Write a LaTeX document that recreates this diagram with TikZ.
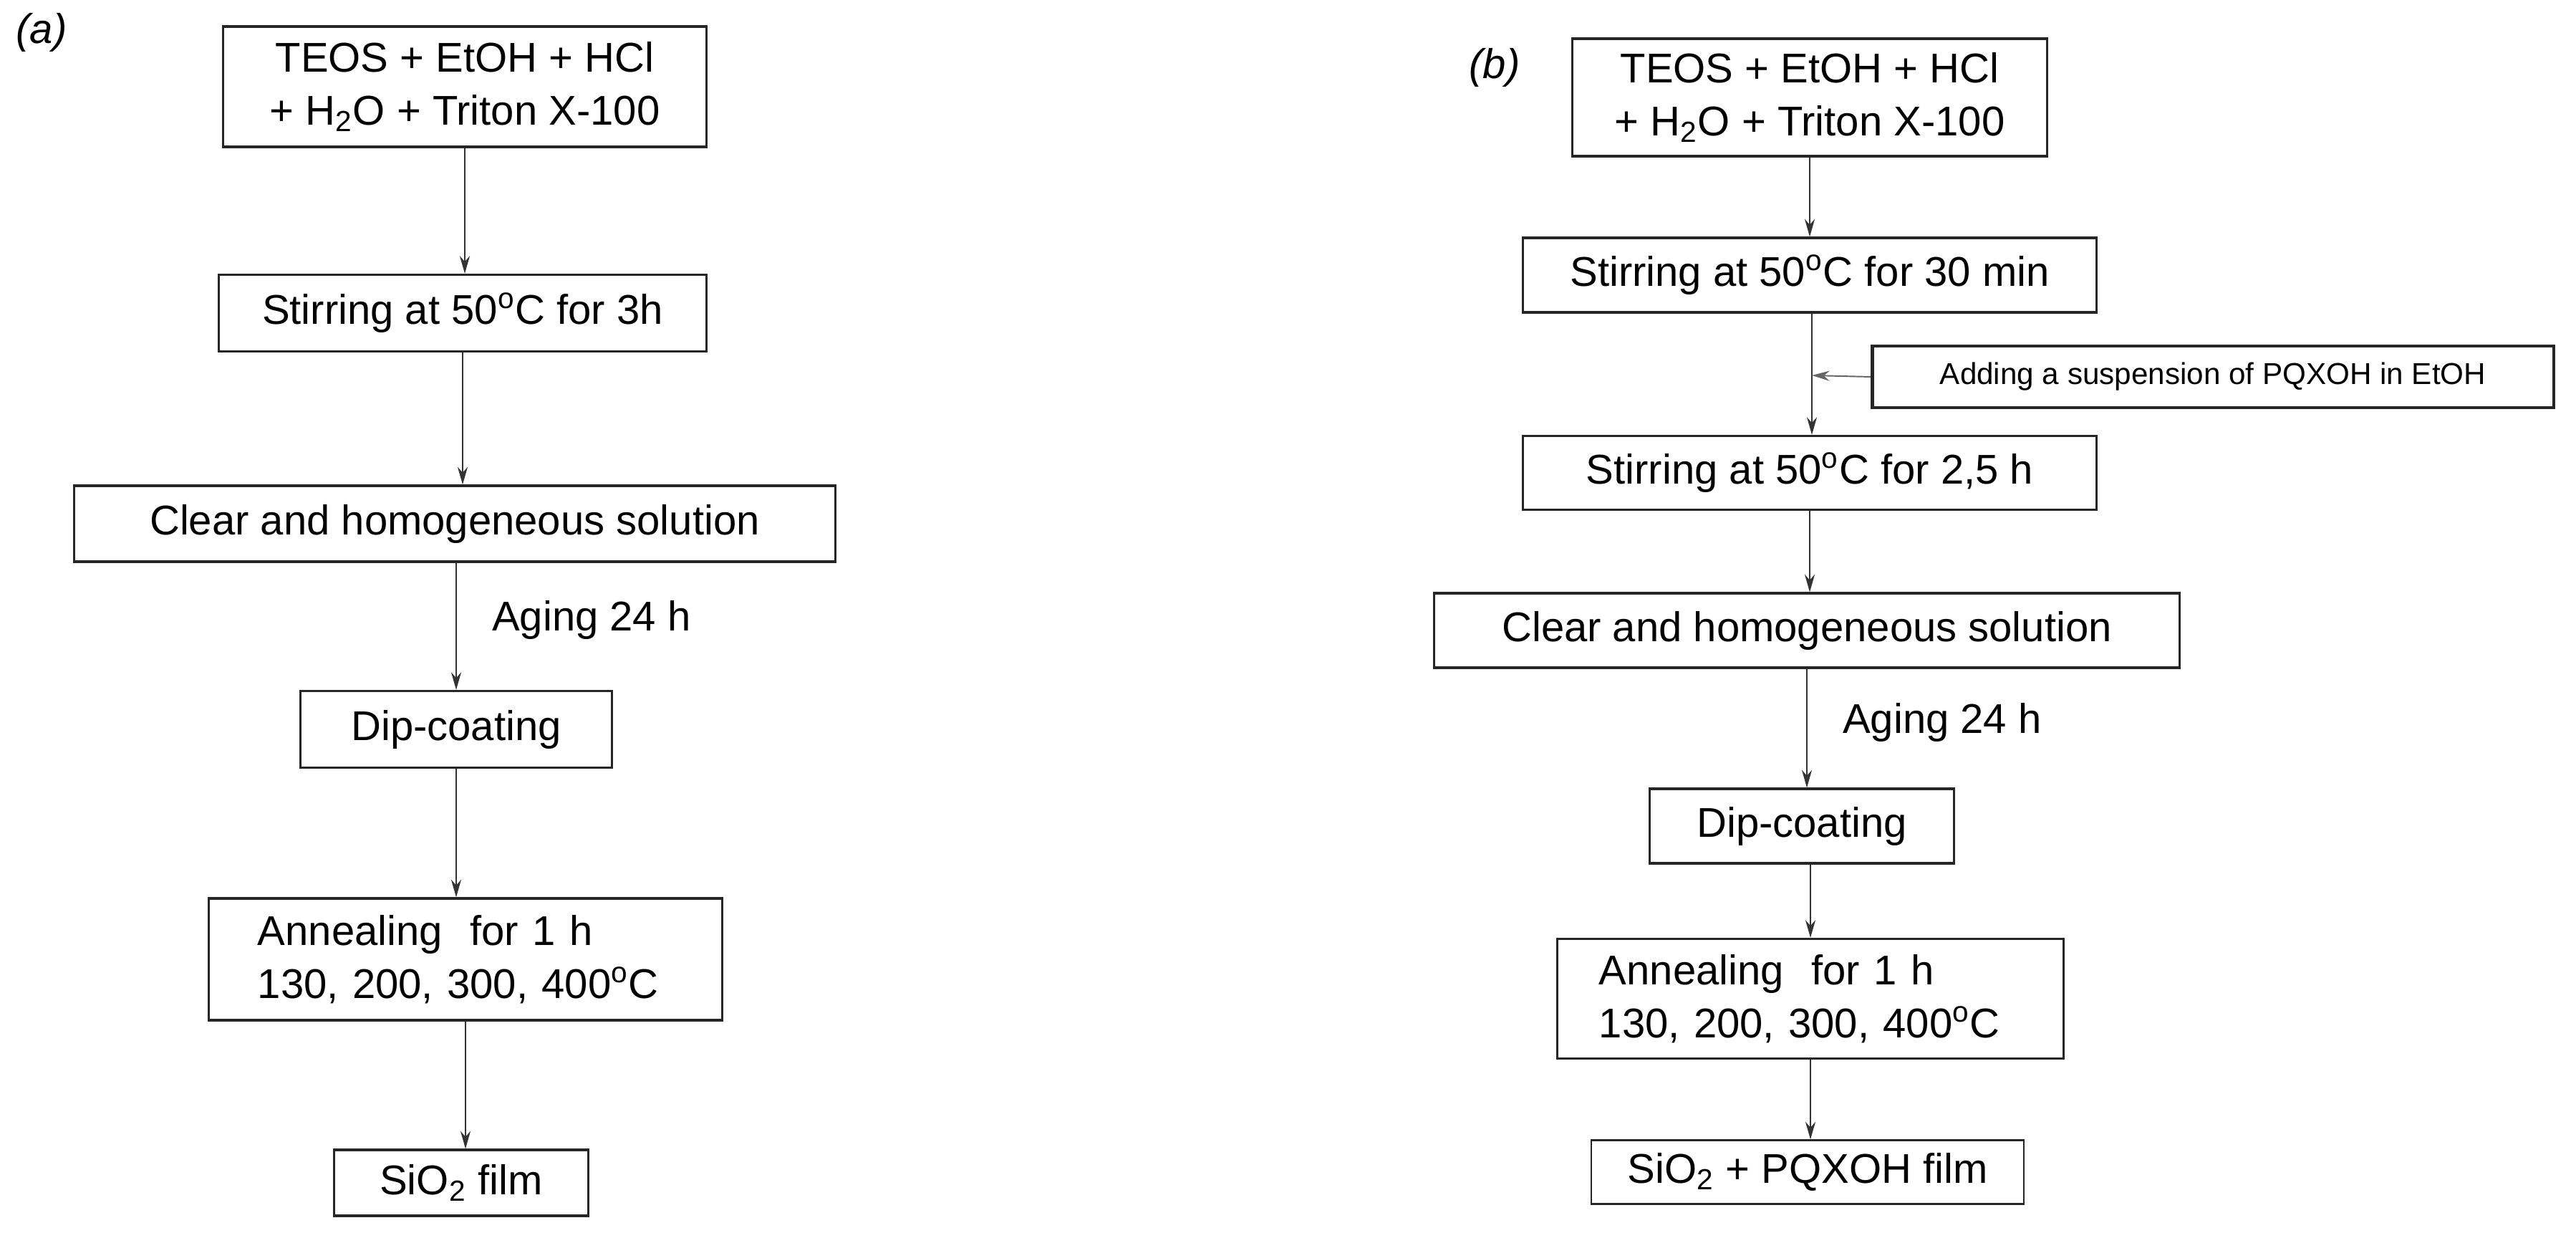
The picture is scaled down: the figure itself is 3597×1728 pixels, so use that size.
\documentclass[tikz,border=0pt]{standalone}
\usepackage{fontspec}
\setmainfont{Liberation Sans}
\usetikzlibrary{arrows.meta}
\begin{document}
\begin{tikzpicture}[x=0.01cm,y=-0.01cm,
  box/.style={draw=black!85,line width=0.9pt,inner sep=0pt,font=\fontsize{16.5}{21}\selectfont,align=center},
  arr/.style={draw=black!80,line width=0.55pt,-{Stealth[length=7pt,width=4pt]}},
  lab/.style={font=\fontsize{16.5}{21}\selectfont,anchor=west,inner sep=0pt}]
\useasboundingbox (0,0) rectangle (3597,1728);
% (a)
\node[font=\itshape\fontsize{16.5}{20}\selectfont,inner sep=0pt] (la) at (58,45) {(a)};
\node[box,minimum width=6.75cm,minimum height=1.68cm] (a1) at (649,121) {TEOS + EtOH + HCl\\+ H\textsubscript{2}O + Triton X-100};
\node[box,minimum width=6.81cm,minimum height=1.07cm] (a2) at (646,437) {Stirring at 50\textsuperscript{o}C for 3h};
\node[box,minimum width=10.62cm,minimum height=1.06cm] (a3) at (635,731) {Clear and homogeneous solution};
\node[box,minimum width=4.34cm,minimum height=1.07cm] (a4) at (637,1018) {Dip-coating};
\node[box,minimum width=7.17cm,minimum height=1.70cm,align=left,text width=5.8cm] (a5) at (650,1339) {Annealing~ for 1 h\\130, 200, 300, 400\textsuperscript{o}C};
\node[box,minimum width=3.54cm,minimum height=0.92cm] (a6) at (644,1651) {SiO\textsubscript{2} film};
\draw[arr] (a1.south) -- (a1.south |- a2.north);
\draw[arr] (a2.south) -- (a2.south |- a3.north);
\draw[arr] (a4.north |- a3.south) -- (a4.north) node[lab,pos=0.45,right=14pt] (aga) {Aging 24 h};
\draw[arr] (a4.south) -- (a4.south |- a5.north);
\draw[arr] (a5.south) -- (a5.south |- a6.north);
% (b)
\node[font=\itshape\fontsize{16.5}{20}\selectfont,inner sep=0pt] (lb) at (2087,94) {(b)};
\node[box,minimum width=6.62cm,minimum height=1.64cm] (b1) at (2527,136) {TEOS + EtOH + HCl\\+ H\textsubscript{2}O + Triton X-100};
\node[box,minimum width=8.01cm,minimum height=1.04cm] (b2) at (2527,384) {Stirring at 50\textsuperscript{o}C for 30 min};
\node[box,line width=1.3pt,minimum width=9.51cm,minimum height=0.86cm,font=\fontsize{12}{14}\selectfont] (bs) at (3090,526) {Adding a suspension of PQXOH in EtOH};
\node[box,minimum width=8.01cm,minimum height=1.03cm] (b3) at (2527,660) {Stirring at 50\textsuperscript{o}C for 2,5 h};
\node[box,minimum width=10.40cm,minimum height=1.04cm] (b4) at (2523,880) {Clear and homogeneous solution};
\node[box,minimum width=4.25cm,minimum height=1.04cm] (b5) at (2516,1153) {Dip-coating};
\node[box,minimum width=7.06cm,minimum height=1.67cm,align=left,text width=5.9cm] (b6) at (2528,1394) {Annealing~ for 1 h\\130, 200, 300, 400\textsuperscript{o}C};
\node[box,line width=0.6pt,minimum width=6.04cm,minimum height=0.89cm] (b7) at (2524,1636) {SiO\textsubscript{2} + PQXOH film};
\coordinate (bj) at (2530,524);
\draw[arr] (b1.south -| b2.north) -- (b2.north);
\draw[draw=black!80,line width=0.55pt] (bj |- b2.south) -- (bj);
\draw[arr] (bj) -- (bj |- b3.north);
\draw[draw=black!60,line width=0.55pt,-{Stealth[length=7pt,width=4pt]}] (bs.west) -- (bj);
\draw[arr] (b3.south) -- (b3.south |- b4.north);
\draw[arr] (b4.south) -- (b4.south |- b5.north) node[lab,pos=0.45,right=14pt] (agb) {Aging 24 h};
\draw[arr] (b6.north |- b5.south) -- (b6.north);
\draw[arr] (b6.south) -- (b6.south |- b7.north);
\end{tikzpicture}
\end{document}
